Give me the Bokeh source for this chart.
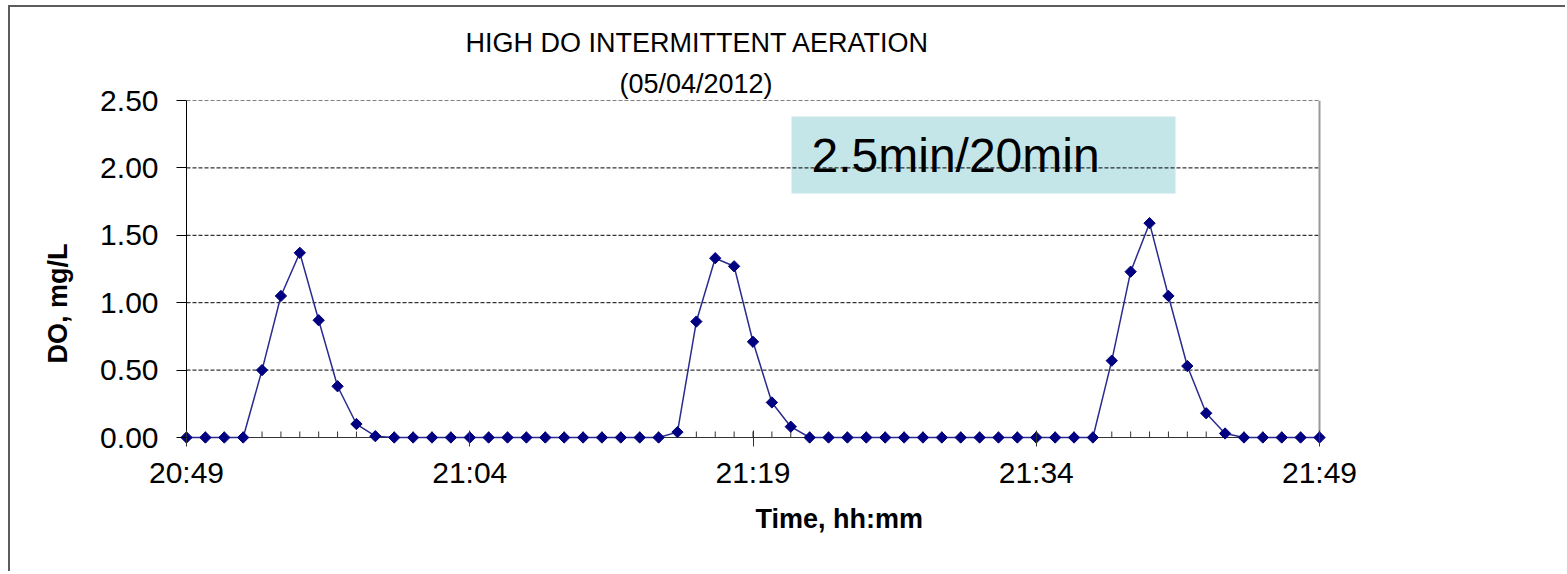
import math
from bokeh.plotting import figure
from bokeh.models import (Label, BoxAnnotation, FixedTicker, NumeralTickFormatter,
                          ColumnDataSource, Title)
from bokeh.embed import file_html
from bokeh.resources import INLINE

# ---------------- data ----------------
times = ["20:49", "20:50", "20:51", "20:52", "20:53", "20:54", "20:55", "20:56", "20:57", "20:58",
         "20:59", "21:00", "21:01", "21:02", "21:03", "21:04", "21:05", "21:06", "21:07", "21:08",
         "21:09", "21:10", "21:11", "21:12", "21:13", "21:14", "21:15", "21:16", "21:17", "21:18",
         "21:19", "21:20", "21:21", "21:22", "21:23", "21:24", "21:25", "21:26", "21:27", "21:28",
         "21:29", "21:30", "21:31", "21:32", "21:33", "21:34", "21:35", "21:36", "21:37", "21:38",
         "21:39", "21:40", "21:41", "21:42", "21:43", "21:44", "21:45", "21:46", "21:47", "21:48",
         "21:49"]
do_mg_l = [0.00, 0.00, 0.00, 0.00, 0.50, 1.05, 1.37, 0.87, 0.38, 0.10,
           0.01, 0.00, 0.00, 0.00, 0.00, 0.00, 0.00, 0.00, 0.00, 0.00,
           0.00, 0.00, 0.00, 0.00, 0.00, 0.00, 0.04, 0.86, 1.33, 1.27,
           0.71, 0.26, 0.08, 0.00, 0.00, 0.00, 0.00, 0.00, 0.00, 0.00,
           0.00, 0.00, 0.00, 0.00, 0.00, 0.00, 0.00, 0.00, 0.00, 0.57,
           1.23, 1.59, 1.05, 0.53, 0.18, 0.03, 0.00, 0.00, 0.00, 0.00,
           0.00]
x_tick_labels = ["20:49", "21:04", "21:19", "21:34", "21:49"]
y_ticks = [0.0, 0.5, 1.0, 1.5, 2.0, 2.5]
title_line1 = "HIGH DO INTERMITTENT AERATION"
title_line2 = "(05/04/2012)"
y_title = "DO, mg/L"
x_title = "Time, hh:mm"
note_text = "2.5min/20min"


def to_min(t):
    h, m = t.split(":")
    return int(h) * 60 + int(m)


t0 = to_min(times[0])
x_min = [to_min(t) - t0 for t in times]
major_x = [to_min(t) - t0 for t in x_tick_labels]
x_end = x_min[-1]
y_top = y_ticks[-1]

# ---------------- geometry (page pixels) ----------------
PX0, PX1 = 186.0, 1319.0      # x data 0 .. x_end
PY0, PY1 = 437.0, 100.0       # y data 0 .. y_top
sx = (PX1 - PX0) / x_end
sy = (PY0 - PY1) / y_top
FL, FR, FT, FB = 178, 1327, 100, 445  # frame bounds on page
CX, CY = 10, 7                        # canvas origin on page (after css margin + border)
W, H = 1557, 566


def dx(px):
    return (px - PX0) / sx


def dy(py):
    return (PY0 - py) / sy


FONT = "Liberation Sans"

p = figure(width=W, height=H, output_backend="svg", toolbar_location=None,
           x_range=(dx(FL), dx(FR)), y_range=(dy(FB), dy(FT)),
           min_border_left=FL - CX, min_border_right=W - (FR - CX),
           min_border_top=FT - CY, min_border_bottom=H - (FB - CY),
           background_fill_color="white", border_fill_color="white")
p.styles = {"margin-left": "8px", "margin-top": "5px",
            "border-left": "2px solid #5c5c5c", "border-top": "2px solid #5c5c5c"}
p.outline_line_color = None
p.xgrid.visible = False
p.ygrid.visible = False

# titles (stacked above the frame; first added sits closest to the frame)
p.add_layout(Title(text=title_line2, align="left", offset=619 - FL, standoff=4,
                   text_font=FONT, text_font_size="27px", text_font_style="normal",
                   text_color="black"), "above")
p.add_layout(Title(text=title_line1, align="left", offset=465 - FL, standoff=14,
                   text_font=FONT, text_font_size="27px", text_font_style="normal",
                   text_color="black"), "above")

# dashed horizontal gridlines (only across the data span)
grid_y = [v for v in y_ticks if v > 0]
p.segment(x0=[0] * len(grid_y), x1=[x_end] * len(grid_y), y0=grid_y, y1=grid_y,
          line_color="black", line_width=1, line_dash="4 2")
# right edge of plot area
p.segment(x0=[x_end], x1=[x_end], y0=[0], y1=[y_top], line_color="#9a9a9a", line_width=2)

# annotation box
p.add_layout(BoxAnnotation(left=dx(791), right=dx(1175), top=dy(116), bottom=dy(193),
                           fill_color="#C5E6E8", fill_alpha=1.0, line_color=None, level="underlay"))
p.add_layout(Label(x=dx(811), y=dy(174 - 19), text=note_text, text_font=FONT, text_font_size="48px",
                   text_color="black", text_align="left", text_baseline="alphabetic"))

# axis lines and minor ticks drawn at data zero
p.segment(x0=[0], x1=[0], y0=[0], y1=[y_top], line_color="black", line_width=1)
p.segment(x0=x_min, x1=x_min, y0=[0] * len(x_min), y1=[dy(431)] * len(x_min),
          line_color="#333333", line_width=1)
p.segment(x0=[0], x1=[x_end], y0=[0], y1=[0], line_color="#333333", line_width=1.2)

src = ColumnDataSource(dict(x=x_min, y=do_mg_l))
p.line("x", "y", source=src, line_color="#2b2b8f", line_width=1.5)
p.scatter("x", "y", source=src, marker="square", angle=math.pi / 4, size=8,
          fill_color="#000080", line_color="#000080")

# x axis (labels + major ticks)
xa = p.xaxis[0]
xa.bounds = (0, x_end)
xa.ticker = FixedTicker(ticks=major_x, minor_ticks=[])
xa.major_label_overrides = {m: lbl for m, lbl in zip(major_x, x_tick_labels)}
xa.axis_line_color = None
xa.major_tick_line_color = "#333333"
xa.minor_tick_line_color = None
xa.major_tick_in = FB - 430
xa.major_tick_out = 1
xa.major_label_standoff = 9
xa.major_label_text_font = FONT
xa.major_label_text_font_size = "30px"
xa.major_label_text_color = "black"

# x title in the below panel
p.add_layout(Title(text=x_title, align="left", offset=755 - FL, standoff=21,
                   text_font=FONT, text_font_size="27px", text_font_style="bold",
                   text_color="black"), "below")

# y axis (labels + major ticks)
ya = p.yaxis[0]
ya.bounds = (0, y_top)
ya.ticker = FixedTicker(ticks=y_ticks, minor_ticks=[])
ya.formatter = NumeralTickFormatter(format="0.00")
ya.axis_line_color = None
ya.major_tick_line_color = "black"
ya.major_tick_in = 186 - FL
ya.major_tick_out = 2
ya.minor_tick_line_color = None
ya.major_label_standoff = 18
ya.major_label_text_font = FONT
ya.major_label_text_font_size = "30px"
ya.major_label_text_color = "black"

# y title as a rotated title in the left panel (start of text offset from frame bottom)
p.add_layout(Title(text=y_title, align="left", offset=FB - 363, standoff=50,
                   text_font=FONT, text_font_size="27px", text_font_style="bold",
                   text_color="black"), "left")

open("out.html", "w").write(file_html(p, INLINE))
